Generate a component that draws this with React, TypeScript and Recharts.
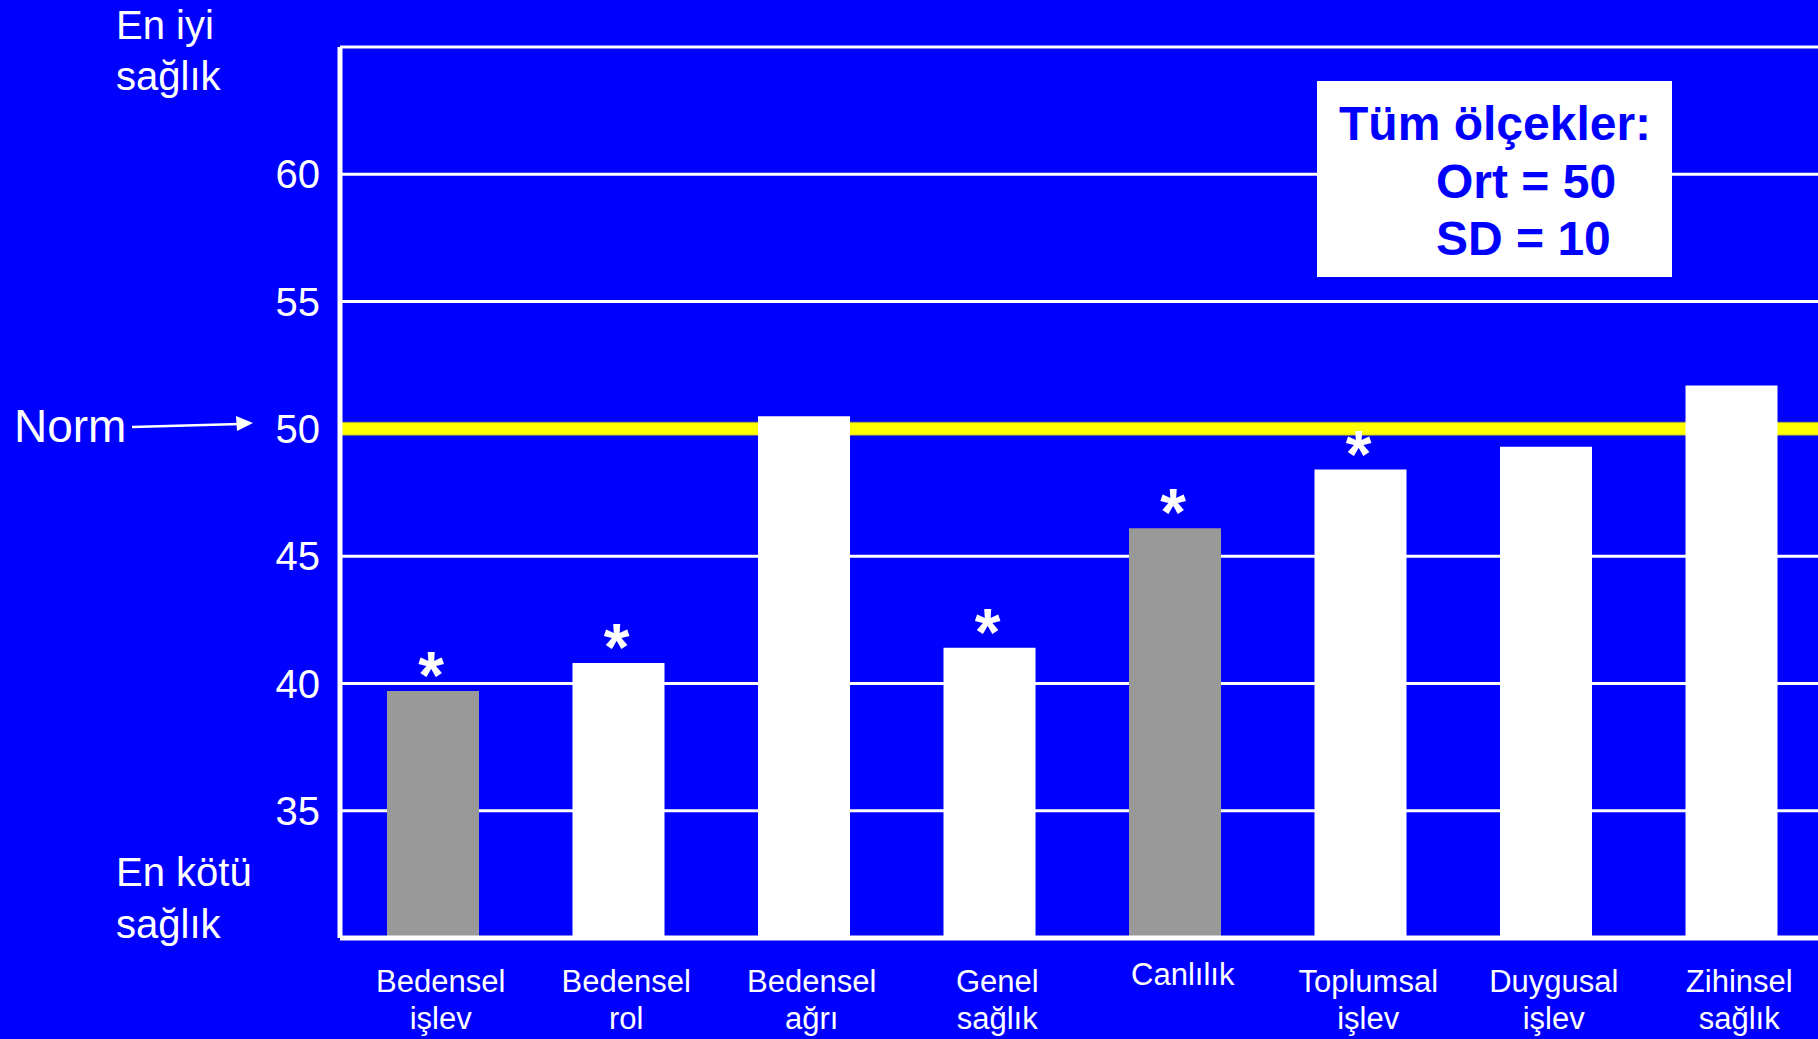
import { Bar, BarChart, CartesianGrid, Cell, LabelList, ReferenceLine, XAxis, YAxis } from 'recharts';

// SF-36 scale scores (norm-based, mean 50 / SD 10)
const LABEL_TOP = ['Bedensel', 'Bedensel', 'Bedensel', 'Genel', 'Canlılık', 'Toplumsal', 'Duygusal', 'Zihinsel'];
const LABEL_BOTTOM = ['işlev', 'rol', 'ağrı', 'sağlık', '', 'işlev', 'işlev', 'sağlık'];
const SCORES = [39.7, 40.8, 50.5, 41.4, 46.1, 48.4, 49.3, 51.7];
const SIGNIFICANT = [true, true, false, true, true, true, false, false];
const GRAY_BARS = [true, false, false, false, true, false, false, false];
const Y_TICKS = [30, 35, 40, 45, 50, 55, 60, 65];
const Y_LABELED = [35, 40, 45, 50, 55, 60];
const NORM = 50;

const BLUE = '#0000FF';
const FONT = '"Liberation Sans", Arial, sans-serif';

const data = SCORES.map((score, i) => ({
  name: `${LABEL_TOP[i]} ${LABEL_BOTTOM[i]}`.trim(),
  score,
  mark: SIGNIFICANT[i] ? '*' : '',
}));

function CategoryTick(props: any) {
  const { x, y, payload } = props;
  const i = payload.index;
  const bottom = LABEL_BOTTOM[i];
  const base = y + 46 - (bottom ? 0 : 7);
  return (
    <g>
      <text x={x + 8} y={base} textAnchor="middle" fill="#fff" fontSize={31} fontFamily={FONT}>
        {LABEL_TOP[i]}
      </text>
      {bottom && (
        <text x={x + 8} y={base + 37} textAnchor="middle" fill="#fff" fontSize={31} fontFamily={FONT}>
          {bottom}
        </text>
      )}
    </g>
  );
}

function StarLabel(props: any) {
  const vb = props.viewBox ?? props;
  const x = vb.x ?? props.x;
  const y = vb.y ?? props.y;
  const width = vb.width ?? props.width;
  if (!props.value) return null;
  return (
    <text
      x={x + width / 2 - 2}
      y={y + 7}
      textAnchor="middle"
      fill="#fff"
      fontSize={66}
      fontWeight="bold"
      fontFamily={FONT}
    >
      {props.value}
    </text>
  );
}

export default function App() {
  return (
    <div
      style={{
        position: 'absolute',
        left: 0,
        top: 0,
        width: 1818,
        height: 1039,
        overflow: 'hidden',
        background: BLUE,
        fontFamily: FONT,
      }}
    >
      <BarChart
        width={1824}
        height={1039}
        data={data}
        margin={{ top: 47, right: 0, bottom: 0, left: 0 }}
        barSize={92}
      >
        <CartesianGrid vertical={false} stroke="#fff" strokeWidth={3} />
        <ReferenceLine y={NORM} stroke="#8c8c50" strokeWidth={14} zIndex={0} />
        <ReferenceLine y={NORM} stroke="#FFFF00" strokeWidth={12} zIndex={0} />
        <XAxis
          dataKey="name"
          height={101}
          axisLine={{ stroke: '#fff', strokeWidth: 5 }}
          tickLine={false}
          tick={<CategoryTick />}
          interval={0}
        />
        <YAxis
          width={340}
          domain={[30, 65]}
          ticks={Y_TICKS}
          allowDataOverflow
          axisLine={{ stroke: '#fff', strokeWidth: 5 }}
          tickLine={false}
          tickMargin={14}
          tick={{ fill: '#fff', fontSize: 40, fontFamily: FONT }}
          tickFormatter={(v: number) => (Y_LABELED.includes(v) ? String(v) : '')}
        />
        <Bar dataKey="score" isAnimationActive={false}>
          {data.map((d, i) => (
            <Cell key={d.name} fill={GRAY_BARS[i] ? '#999999' : '#FFFFFF'} />
          ))}
          <LabelList dataKey="mark" content={<StarLabel />} />
        </Bar>
      </BarChart>

      <svg
        width={1818}
        height={1039}
        style={{ position: 'absolute', left: 0, top: 0, pointerEvents: 'none' }}
        fontFamily={FONT}
      >
        <text x={116} y={39} fill="#fff" fontSize={40}>En iyi</text>
        <text x={116} y={90} fill="#fff" fontSize={40}>sağlık</text>
        <text x={116} y={886} fill="#fff" fontSize={40}>En kötü</text>
        <text x={116} y={938} fill="#fff" fontSize={40}>sağlık</text>

        <text x={14} y={442} fill="#fff" fontSize={46}>Norm</text>
        <line x1={132} y1={427} x2={240} y2={424} stroke="#fff" strokeWidth={2.5} />
        <polygon points="253,423 236,416 237,431" fill="#fff" />

        <rect x={1317} y={81} width={355} height={196} fill="#fff" />
        <text x={1339} y={140} fill={BLUE} fontSize={48} fontWeight="bold">Tüm ölçekler:</text>
        <text x={1436} y={198} fill={BLUE} fontSize={48} fontWeight="bold">Ort = 50</text>
        <text x={1436} y={255} fill={BLUE} fontSize={48} fontWeight="bold">SD = 10</text>
      </svg>
    </div>
  );
}
